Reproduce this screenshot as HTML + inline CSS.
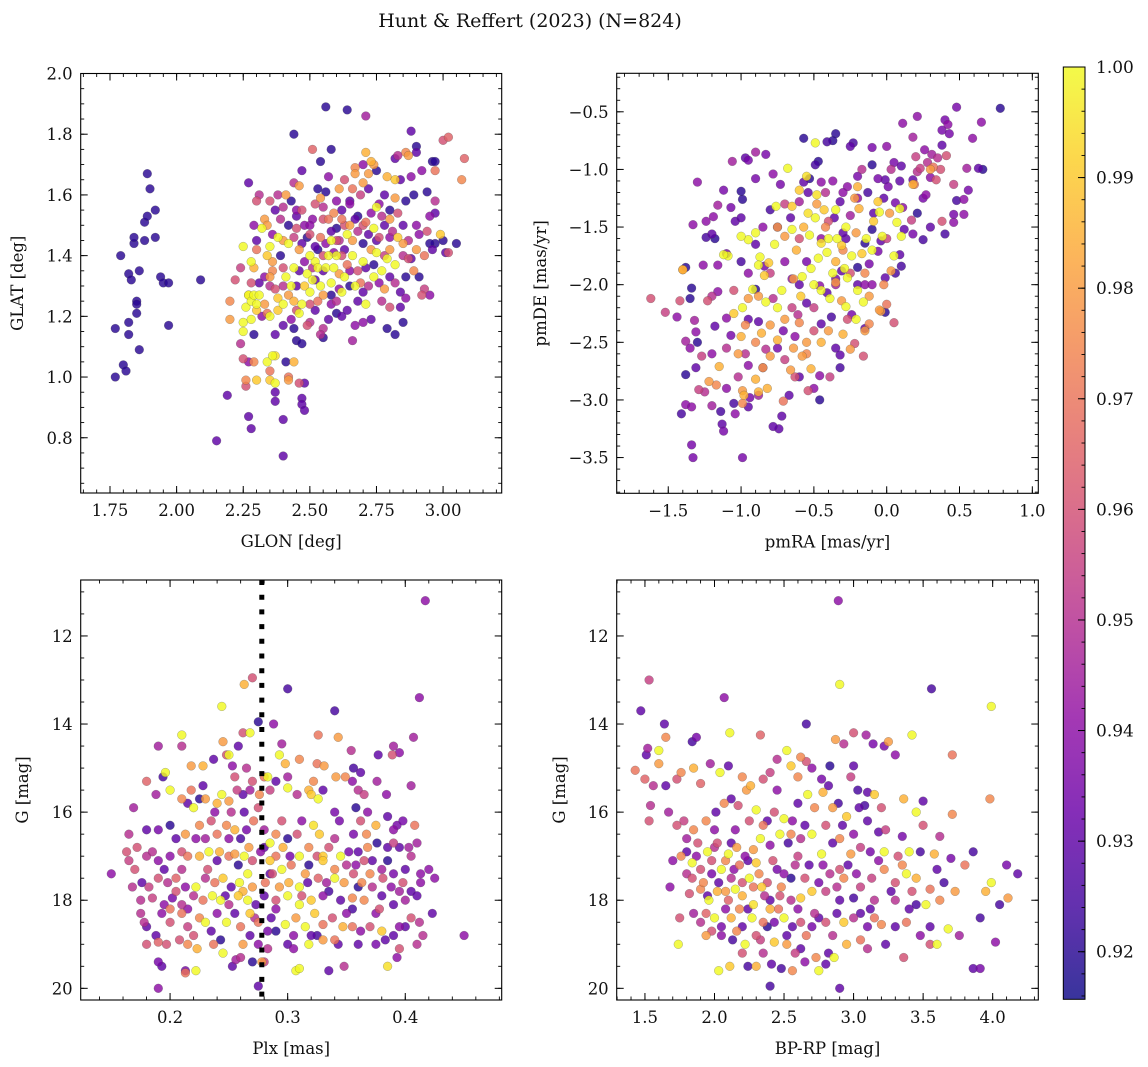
<!DOCTYPE html>
<html><head><meta charset="utf-8">
<style>
html,body{margin:0;padding:0;background:#fff;}
svg{display:block;font-family:"DejaVu Serif","Liberation Serif",serif;}
</style></head>
<body>
<svg id="fig" width="1148" height="1067" viewBox="0 0 1148 1067" xmlns="http://www.w3.org/2000/svg">
<text x="530" y="27" text-anchor="middle" font-size="19" fill="#111">Hunt &amp; Reffert (2023) (N=824)</text>
</svg>
<script>
// ---- data: [x, y, membership probability] ----
const glonGlat=[[1.77,1.16,0.92],[1.77,1.0,0.92],[1.79,1.40,0.92],[1.80,1.04,0.92],[1.81,1.02,0.92],[1.82,1.34,0.92],[1.82,1.18,0.92],[1.82,1.14,0.92],[1.83,1.32,0.92],[1.84,1.44,0.92],[1.84,1.46,0.92],[1.85,1.25,0.92],[1.85,1.24,0.92],[1.85,1.21,0.92],[1.86,1.35,0.92],[1.86,1.09,0.92],[1.88,1.51,0.92],[1.88,1.45,0.92],[1.89,1.53,0.92],[1.89,1.67,0.92],[1.90,1.62,0.92],[1.92,1.55,0.92],[1.92,1.46,0.92],[1.94,1.33,0.92],[1.95,1.31,0.92],[1.97,1.31,0.92],[1.97,1.17,0.92],[2.09,1.32,0.92],
[2.15,0.79,0.93],[2.19,0.94,0.93],[2.27,0.87,0.93],[2.28,0.83,0.93],[2.40,0.74,0.93],[2.40,0.86,0.93],[2.37,0.95,0.93],[2.37,0.92,0.93],[2.47,0.93,0.93],[2.47,0.91,0.93],[2.48,0.89,0.93],[2.48,0.98,0.93],[2.26,0.99,0.975],[2.26,0.97,0.96],[2.30,0.99,0.99],[2.35,0.99,0.99],[2.37,0.98,1.0],[2.42,1.0,0.97],[2.42,0.99,0.98],[2.46,0.98,0.96],[2.34,1.05,1.0],[2.36,1.07,1.0],[2.37,1.07,0.995],[2.35,1.02,0.97],[2.41,1.05,0.92],[2.44,1.05,0.985],[2.27,1.05,0.94],[2.25,1.06,0.96],[2.29,1.05,0.975],[2.24,1.11,0.95],[2.37,1.14,0.93],[2.45,1.12,0.92],[2.47,1.11,0.92],[2.29,1.14,0.92],[2.40,1.17,0.93],
[2.25,1.18,1.0],[2.25,1.15,1.0],[2.26,1.23,1.0],[2.27,1.27,1.0],[2.28,1.25,1.0],[2.29,1.27,1.0],[2.30,1.24,1.0],[2.31,1.27,1.0],[2.27,1.27,0.99],[2.28,1.19,1.0],[2.30,1.22,0.99],[2.20,1.25,0.975],[2.20,1.19,0.98],[2.22,1.32,0.96],[2.24,1.36,0.955],[2.28,1.31,0.96],[2.25,1.43,1.0],[2.28,1.38,1.0],[2.29,1.36,0.985],[2.30,1.45,0.93],[2.29,1.50,0.94],[2.30,1.58,0.96],[2.27,1.64,0.93],[2.31,1.60,0.95],[2.33,1.52,0.98],[2.32,1.49,1.0],[2.34,1.50,0.98],[2.35,1.43,1.0],[2.34,1.40,0.99],[2.36,1.38,0.98],[2.36,1.35,0.975],[2.35,1.30,0.95],[2.37,1.29,0.96],[2.38,1.26,0.99],[2.33,1.24,0.98],[2.34,1.21,0.97],[2.35,1.20,1.0],[2.32,1.20,0.94],[2.38,1.22,0.99],[2.40,1.24,1.0],[2.41,1.33,1.0],[2.42,1.27,0.98],[2.43,1.30,1.0],[2.44,1.25,0.985],[2.45,1.22,0.96],[2.46,1.21,1.0],[2.47,1.24,1.0],[2.48,1.30,0.99],[2.49,1.34,1.0],[2.50,1.28,1.0],[2.51,1.32,1.0],[2.52,1.38,1.0],[2.53,1.36,1.0],[2.54,1.30,1.0],[2.55,1.27,0.98],[2.56,1.36,1.0],[2.57,1.40,1.0],[2.58,1.31,1.0],[2.59,1.36,1.0],[2.60,1.40,1.0],[2.61,1.34,0.98],[2.62,1.28,1.0],[2.63,1.33,1.0],[2.64,1.37,0.97],[2.66,1.40,1.0],[2.67,1.30,1.0],[2.68,1.35,0.96],[2.70,1.38,1.0],[2.71,1.24,1.0],[2.73,1.42,0.98],[2.74,1.33,1.0],[2.75,1.41,1.0],[2.77,1.35,1.0],[2.79,1.39,1.0],[2.80,1.42,0.98],[2.82,1.37,1.0],[2.83,1.46,0.99],[2.85,1.44,0.98],[2.75,1.56,1.0],[2.74,1.49,1.0],[2.64,1.47,1.0],[2.58,1.45,1.0],[2.50,1.40,1.0],[2.46,1.42,0.98],[2.42,1.44,1.0],[2.40,1.45,0.98],[2.38,1.46,1.0],[2.44,1.36,1.0],
[2.40,1.56,0.95],[2.41,1.60,0.98],[2.43,1.58,0.92],[2.44,1.64,0.95],[2.46,1.63,0.98],[2.45,1.53,0.93],[2.47,1.55,0.96],[2.48,1.50,0.94],[2.49,1.46,0.92],[2.51,1.52,0.94],[2.52,1.57,0.96],[2.53,1.62,0.92],[2.54,1.59,0.98],[2.55,1.56,0.95],[2.56,1.61,0.92],[2.57,1.52,0.97],[2.58,1.48,0.93],[2.59,1.54,0.975],[2.60,1.58,0.94],[2.61,1.62,0.98],[2.62,1.55,0.93],[2.63,1.50,0.96],[2.65,1.57,0.94],[2.66,1.62,0.97],[2.67,1.67,0.98],[2.68,1.53,0.92],[2.69,1.60,0.955],[2.70,1.64,0.98],[2.72,1.67,0.98],[2.73,1.71,0.985],[2.71,1.74,0.985],[2.74,1.70,0.98],[2.76,1.57,0.94],[2.78,1.60,0.93],[2.79,1.66,0.985],[2.80,1.55,0.92],[2.82,1.59,0.98],[2.83,1.73,0.95],[2.84,1.65,0.93],[2.86,1.74,0.975],[2.88,1.66,0.94],[2.88,1.81,0.93],[2.89,1.60,0.92],[2.90,1.74,0.93],[2.90,1.76,0.92],[2.92,1.68,0.94],[2.94,1.61,0.92],[2.96,1.71,0.92],[2.97,1.68,0.97],[3.00,1.78,0.96],[3.02,1.79,0.965],[3.07,1.65,0.975],[3.08,1.72,0.965],[2.97,1.58,0.95],[2.97,1.54,0.93],[2.95,1.53,0.94],[2.99,1.47,0.99],[3.00,1.45,0.92],[3.01,1.41,0.93],[3.05,1.44,0.92],[3.02,1.41,0.96],[2.97,1.44,0.92],[2.96,1.42,0.93],[2.93,1.40,0.97],[2.93,1.29,0.955],[2.92,1.27,0.96],[2.95,1.27,0.94],[2.91,1.33,0.92],[2.89,1.35,0.975],[2.86,1.26,0.94],[2.84,1.28,0.93],[2.84,1.23,0.93],[2.85,1.18,0.92],[2.79,1.16,0.92],[2.82,1.14,0.92],[2.80,1.23,0.96],[2.77,1.25,0.95],[2.73,1.19,0.93],[2.70,1.18,0.94],[2.67,1.17,0.94],[2.66,1.12,0.945],[2.62,1.20,0.93],[2.60,1.21,0.92],[2.64,1.22,0.93],[2.58,1.24,0.94],[2.57,1.19,0.93],[2.55,1.16,0.95],[2.55,1.13,0.92],[2.54,1.14,0.95],[2.50,1.18,0.95],[2.49,1.17,0.96],[2.58,1.27,0.92],[2.68,1.25,0.93],[2.72,1.30,0.95],[2.76,1.31,0.94],[2.78,1.29,0.98],[2.88,1.39,0.93],[2.87,1.45,0.95],[2.91,1.47,0.94],[2.94,1.48,0.96],[2.95,1.44,0.92],[2.90,1.42,0.98],[2.81,1.48,0.95],[2.78,1.50,0.93],[2.76,1.46,0.96],[2.72,1.47,0.93],[2.70,1.44,0.92],[2.68,1.48,0.95],[2.66,1.45,0.98],[2.63,1.42,0.93],[2.61,1.45,0.95],[2.60,1.49,0.92],[2.56,1.44,0.94],[2.54,1.46,0.97],[2.52,1.43,0.93],[2.50,1.47,0.96],[2.48,1.38,0.94],[2.46,1.35,0.93],[2.44,1.46,0.955],[2.42,1.50,0.92],[2.39,1.52,0.95],[2.37,1.55,0.93],[2.36,1.47,0.94],[2.38,1.60,0.95],[2.35,1.58,0.96],[2.39,1.40,0.92],[2.33,1.33,0.94],[2.31,1.31,0.93],[2.40,1.30,0.95],[2.43,1.19,0.94],[2.44,1.16,0.92],[2.52,1.22,0.93],[2.53,1.25,0.97],[2.61,1.29,0.94],[2.65,1.30,0.92],[2.69,1.31,0.97],[2.71,1.36,0.93],[2.74,1.37,0.92],[2.80,1.33,0.93],[2.82,1.31,0.95],[2.86,1.33,0.92],[2.87,1.39,0.96],[2.85,1.50,0.93],[2.83,1.54,0.96],[2.80,1.52,0.98],[2.77,1.53,0.95],[2.73,1.54,0.94],[2.71,1.51,0.97],[2.67,1.52,0.93],[2.65,1.50,0.98],[2.62,1.40,0.96],[2.59,1.41,0.94],[2.55,1.40,0.96],[2.53,1.42,0.92],[2.51,1.36,0.95],[2.47,1.44,0.93],[2.45,1.49,0.96],[2.56,1.89,0.92],[2.64,1.88,0.92],[2.71,1.86,0.945],[2.44,1.80,0.92],[2.58,1.75,0.92],[2.54,1.71,0.92],[2.51,1.75,0.965],[2.70,1.70,0.94],[2.63,1.65,0.96],[2.67,1.69,0.975],[2.75,1.68,0.92],[2.82,1.72,0.93],[2.87,1.73,0.98],[2.97,1.71,0.92],[2.86,1.58,0.92],[2.82,1.65,0.99],
[2.5,1.5,0.94],[2.55,1.35,0.93],[2.6,1.45,0.96],[2.65,1.35,0.94],[2.7,1.5,0.96],[2.75,1.45,0.93],[2.8,1.46,0.94],[2.85,1.4,0.95],[2.45,1.3,0.93],[2.5,1.24,0.96],[2.6,1.25,0.95],[2.7,1.28,0.93],[2.45,1.55,0.94],[2.55,1.52,0.96],[2.65,1.58,0.93],[2.4,1.36,0.96],[2.52,1.32,0.93],[2.62,1.52,0.97],[2.72,1.62,0.93],[2.78,1.4,0.955],[2.9,1.5,0.94],[2.35,1.33,0.98],[2.3,1.42,0.97],[2.57,1.66,0.94],[2.47,1.68,0.93]];

const pmraPmde=[[0.78,-0.47,0.92],[0.48,-0.46,0.935],[0.21,-0.54,0.94],[0.11,-0.6,0.94],[0.4,-0.57,0.935],[0.42,-0.61,0.94],[0.65,-0.59,0.94],[0.38,-0.66,0.935],[0.43,-0.69,0.935],[0.59,-0.73,0.94],[0.18,-0.72,0.945],[0.38,-0.79,0.93],[0.26,-0.83,0.94],[0.31,-0.87,0.945],[0.2,-0.89,0.955],[0.35,-0.9,0.95],[0.41,-0.88,0.96],[0.28,-0.94,0.95],[0.23,-0.99,0.955],[0.32,-0.98,0.97],[0.37,-1.0,0.96],[0.21,-1.02,0.95],[0.05,-0.94,0.935],[0.1,-0.97,0.93],[0.03,-1.0,0.95],[0.55,-0.99,0.945],[0.63,-0.99,0.93],[0.66,-1.0,0.92],[0.46,-1.13,0.955],[0.34,-1.09,0.96],[0.3,-1.07,0.94],[0.18,-1.09,0.93],[0.09,-1.1,0.93],[0.01,-1.15,0.935],[-0.01,-1.09,0.93],[-0.06,-1.08,0.935],[0.19,-1.13,0.97],[0.27,-1.22,0.94],[0.56,-1.18,0.935],[0.53,-1.26,0.94],[0.48,-1.27,0.925],[0.53,-1.39,0.94],[0.46,-1.39,0.935],[0.38,-1.45,0.96],[0.46,-1.46,0.94],[0.4,-1.56,0.925],[0.25,-1.61,0.925],[0.18,-1.56,0.935],[0.12,-1.52,0.93],[0.17,-1.44,0.955],[0.21,-1.38,0.92],[0.11,-1.33,0.94],[0.06,-1.29,0.935],[-0.02,-1.25,0.93],[0.09,-1.74,0.93],[0.1,-1.84,0.925],[0.06,-1.9,0.925],[-0.01,-1.94,0.93],[0.0,-2.17,0.97],[-0.04,-2.23,0.98],[-0.01,-2.24,0.92],[0.05,-2.33,0.96],[-0.12,-2.34,0.975],[-0.15,-2.38,0.93],[-0.16,-2.62,0.96],[-0.22,-2.51,0.96],[-0.32,-2.61,0.93],[-0.32,-2.72,0.925],[-0.39,-2.8,0.955],[-0.46,-2.79,0.94],[-0.5,-2.9,0.94],[-0.46,-3.0,0.92],[-0.54,-2.92,0.96],[-0.63,-2.8,0.96],[-0.67,-2.96,0.93],[-0.71,-3.01,0.97],[-0.72,-3.14,0.93],[-0.74,-3.25,0.93],[-0.78,-3.23,0.93],[-0.99,-3.5,0.935],[-1.33,-3.5,0.935],[-1.34,-3.39,0.935],[-1.12,-3.27,0.935],[-1.13,-3.21,0.93],[-1.14,-3.1,0.925],[-1.04,-3.12,0.94],[-0.95,-3.06,0.93],[-1.05,-3.03,0.925],[-1.2,-3.05,0.945],[-1.41,-3.12,0.925],[-1.38,-3.04,0.94],[-1.34,-3.06,0.94],[-1.29,-2.91,0.955],[-1.25,-2.93,0.95],[-1.38,-2.78,0.92],[-1.31,-2.72,0.93],[-1.27,-2.62,0.955],[-1.35,-2.55,0.94],[-1.38,-2.49,0.945],[-1.3,-2.5,0.92],[-1.31,-2.41,0.94],[-1.32,-2.31,0.945],[-1.44,-2.28,0.94],[-1.52,-2.24,0.955],[-1.62,-2.12,0.96],[-1.42,-2.14,0.96],[-1.35,-2.12,0.92],[-1.34,-2.03,0.92],[-1.23,-2.14,0.96],[-1.2,-2.1,0.95],[-1.16,-2.06,0.94],[-1.4,-1.87,0.98],[-1.38,-1.85,0.92],[-1.26,-1.83,0.94],[-1.16,-1.83,0.94],[-1.1,-1.73,0.935],[-1.0,-1.8,0.925],[-1.2,-1.56,0.93],[-1.24,-1.59,0.925],[-1.18,-1.6,0.92],[-1.24,-1.45,0.94],[-1.19,-1.41,0.94],[-1.04,-1.45,0.93],[-1.0,-1.42,0.93],[-1.33,-1.48,0.94],[-1.07,-1.33,0.935],[-0.99,-1.26,0.92],[-1.0,-1.19,0.92],[-1.16,-1.31,0.945],[-1.12,-1.18,0.935],[-1.3,-1.11,0.94],[-1.06,-0.93,0.945],[-0.95,-0.92,0.935],[-0.97,-0.9,0.93],[-0.9,-0.85,0.945],[-0.83,-0.87,0.935],[-0.78,-1.04,0.94],[-0.9,-1.08,0.935],[-0.73,-1.13,0.935],[-0.57,-1.11,0.93],[-0.53,-1.08,0.92],[-0.57,-0.73,0.92],[-0.35,-0.69,0.92],[-0.37,-0.75,0.92],[-0.41,-0.76,0.925],[-0.23,-0.77,0.925],[-0.25,-0.8,0.93],[-0.1,-0.81,0.935],[0.0,-0.8,0.94],[-0.1,-0.96,0.92],[-0.2,-1.06,0.935],[-0.27,-1.15,0.94],[-0.17,-1.0,0.95],[-0.47,-0.93,0.92],[-0.49,-0.96,0.925],[-0.45,-1.11,0.94],[-0.54,-1.2,0.93],[-0.37,-1.1,0.94],[-0.32,-1.28,0.93],[-0.2,-1.25,0.94],[-0.13,-1.2,0.925],[-0.09,-1.38,0.93],[-0.1,-1.52,0.92],[-0.04,-1.62,0.93],[-0.06,-1.71,0.935],[-0.12,-1.82,0.935],[-0.2,-1.85,0.92],[-0.31,-1.88,0.93],[-0.35,-1.95,0.935],[-0.41,-2.07,0.93],[-0.46,-2.01,0.94],[-0.55,-2.16,0.93],[-0.61,-2.26,0.95],[-0.71,-2.4,0.935],[-0.38,-2.28,0.925],[-0.24,-2.26,0.935],[-0.27,-2.3,0.96],[-0.45,-2.34,0.93],[-0.63,-2.45,0.94],[-0.75,-2.55,0.935],[-0.83,-2.56,0.95],[-0.88,-2.32,0.93],[-0.95,-2.3,0.93],[-1.07,-2.44,0.935],[-1.1,-2.29,0.94],[-1.18,-2.36,0.93],[-0.9,-2.04,0.92],[-0.84,-1.84,0.935],[-0.9,-1.65,0.93],[-0.75,-1.5,0.93],[-0.66,-1.42,0.93],[-0.8,-1.35,0.925],[-0.6,-1.28,0.945],[-0.42,-1.2,0.95],[-0.36,-1.42,0.93],[-0.28,-1.6,0.93],[-0.15,-1.64,0.92],[-0.2,-2.0,0.93],[-0.55,-1.8,0.935],[-0.65,-1.95,0.94],[-0.78,-2.12,0.95],[-0.97,-2.6,0.95],[-1.02,-2.8,0.95],[-0.88,-2.96,0.945],[-0.94,-2.98,0.935],[-1.1,-2.9,0.94],[-0.85,-2.72,0.94],
[-0.49,-0.77,1.0],[-0.68,-0.99,1.0],[-0.55,-1.06,0.995],[-0.6,-1.18,0.99],[-0.48,-1.22,0.995],[-0.76,-1.32,1.0],[-0.65,-1.32,0.99],[-0.54,-1.38,0.995],[-0.49,-1.42,1.0],[-0.43,-1.35,0.99],[-0.35,-1.35,1.0],[-0.19,-1.34,0.985],[-0.06,-1.28,0.99],[-0.05,-1.37,1.0],[-0.09,-1.45,0.99],[0.02,-1.38,0.98],[0.09,-1.34,1.0],[0.07,-1.46,1.0],[0.1,-1.58,1.0],[0.05,-1.75,1.0],[-0.03,-1.58,1.0],[-0.14,-1.6,1.0],[-0.21,-1.55,0.98],[-0.28,-1.5,1.0],[-0.34,-1.6,1.0],[-0.31,-1.66,0.99],[-0.4,-1.6,1.0],[-0.45,-1.64,0.995],[-0.53,-1.57,1.0],[-0.57,-1.5,0.985],[-0.65,-1.52,1.0],[-0.7,-1.58,0.98],[-0.77,-1.65,1.0],[-0.9,-1.55,1.0],[-0.95,-1.61,1.0],[-1.0,-1.58,1.0],[-1.09,-1.75,1.0],[-1.12,-1.74,1.0],[-0.87,-1.76,1.0],[-0.81,-1.81,0.99],[-0.88,-1.83,1.0],[-0.84,-1.92,0.99],[-0.92,-2.04,1.0],[-0.99,-2.2,1.0],[-0.83,-2.15,1.0],[-0.75,-2.2,1.0],[-0.72,-2.05,1.0],[-0.64,-1.95,0.98],[-0.58,-1.93,1.0],[-0.52,-1.86,1.0],[-0.47,-1.77,1.0],[-0.41,-1.72,1.0],[-0.35,-1.8,0.985],[-0.29,-1.86,1.0],[-0.24,-1.75,1.0],[-0.17,-1.73,0.99],[-0.1,-1.7,1.0],[-0.27,-1.94,1.0],[-0.37,-1.9,1.0],[-0.45,-2.05,1.0],[-0.5,-2.0,1.0],[-0.59,-2.1,0.99],[-0.31,-2.14,0.98],[-0.2,-2.05,1.0],[-0.16,-2.15,1.0],[-0.21,-2.3,1.0],[-0.28,-2.19,1.0],[-0.39,-2.12,1.0],[-0.88,-2.1,0.98],[-0.95,-2.12,0.98],[-1.05,-2.25,0.99],[-0.97,-2.35,0.975],[-0.86,-2.42,0.985],[-0.8,-2.35,0.98],[-0.7,-2.3,0.98],[-0.75,-2.48,0.985],[-0.64,-2.55,0.98],[-0.55,-2.5,0.98],[-0.58,-2.62,0.98],[-0.52,-2.73,0.985],[-0.66,-2.74,0.98],[-0.8,-2.62,0.98],[-0.9,-2.5,0.975],[-1.0,-2.45,0.985],[-1.02,-2.6,0.98],[-0.85,-2.72,0.98],[-0.9,-2.82,0.985],[-0.88,-2.93,0.985],[-0.82,-2.9,0.985],[-1.15,-2.71,0.985],[-1.22,-2.84,0.98],[-1.17,-2.87,0.975],[-0.99,-2.92,0.98],[-0.98,-2.96,0.985],[-0.99,-3.03,0.975],[-0.6,-2.33,0.975],[-0.45,-2.5,0.985],[-0.4,-2.4,0.98],[-0.3,-2.43,0.985],[-0.25,-2.56,0.98],[-0.15,-2.4,0.98],[-0.05,-2.22,0.98],[-0.12,-2.1,0.98],[-0.02,-2.0,0.975],[0.03,-1.88,0.98],[-0.3,-1.7,0.975],[-0.42,-1.5,0.975],[-0.48,-1.3,0.98],[-0.2,-1.15,0.985],[-0.22,-1.25,0.98],[0.18,-1.13,0.985],[0.3,-1.0,0.98],[-0.75,-1.5,0.98],[-1.4,-1.87,0.985],[-0.62,-1.7,0.985],[-0.35,-1.98,0.98],[-0.15,-1.9,0.975],
[-0.7,-1.8,0.94],[-0.6,-2.0,0.93],[-0.5,-2.2,0.955],[-0.35,-2.0,0.945],[-0.25,-1.9,0.96],[-0.15,-2.0,0.94],[-0.45,-1.6,0.94],[-0.6,-1.6,0.96],[-0.8,-1.9,0.955],[-0.95,-1.9,0.94],[-1.05,-2.05,0.96],[-0.65,-2.2,0.955],[-0.5,-2.4,0.96],[-0.7,-2.65,0.955],[-0.95,-2.7,0.94],[-1.1,-2.55,0.95],[-1.2,-2.6,0.94],[-0.35,-2.55,0.93],[-0.1,-2.0,0.94],[0.0,-1.6,0.955],[-0.25,-1.4,0.945],[-0.4,-1.45,0.96],[-0.7,-1.3,0.955],[-0.85,-1.5,0.94],[-0.3,-1.2,0.94],[0.25,-1.25,0.935],[0.3,-1.5,0.93],[-0.6,-2.8,0.93],[-0.55,-2.6,0.975],[-0.3,-1.55,0.93]];

const plxG=[[0.417,11.2,0.94],[0.412,13.4,0.94],[0.3,13.2,0.925],[0.263,13.1,0.985],[0.27,12.95,0.96],[0.244,13.6,1.0],[0.34,13.7,0.925],[0.407,14.3,0.945],[0.21,14.25,1.0],[0.268,14.2,1.0],[0.262,14.2,0.96],[0.288,14.0,0.94],[0.275,13.95,0.92],[0.19,14.5,0.945],[0.21,14.5,0.95],[0.245,14.4,0.98],[0.258,14.5,0.93],[0.295,14.45,0.945],[0.326,14.25,0.97],[0.343,14.3,0.98],[0.354,14.6,0.95],[0.39,14.5,0.945],[0.395,14.65,0.94],[0.389,14.7,0.96],[0.377,14.7,0.93],[0.405,15.4,0.945],[0.384,15.6,0.94],[0.376,15.3,0.945],[0.362,15.1,0.93],[0.355,15.3,0.94],[0.36,15.5,0.95],[0.365,15.6,0.955],[0.349,15.2,0.975],[0.341,15.2,0.98],[0.356,15.0,0.925],[0.331,14.95,0.98],[0.325,14.9,0.97],[0.31,14.8,0.975],[0.298,14.9,0.985],[0.293,14.7,1.0],[0.3,15.2,0.945],[0.283,15.2,1.0],[0.28,15.2,0.97],[0.265,15.0,0.95],[0.253,14.95,0.94],[0.25,14.7,1.0],[0.248,14.7,0.96],[0.237,14.8,0.93],[0.228,14.95,0.985],[0.218,14.95,0.98],[0.196,15.1,1.0],[0.194,15.2,0.925],[0.18,15.3,0.965],[0.169,15.9,0.945],[0.188,15.6,0.945],[0.2,15.5,1.0],[0.21,15.7,0.975],[0.215,15.8,0.93],[0.22,15.9,1.0],[0.218,15.5,0.97],[0.23,15.7,0.98],[0.225,15.7,0.92],[0.24,15.8,0.985],[0.244,15.6,1.0],[0.25,15.75,0.98],[0.257,15.5,0.955],[0.262,15.6,0.93],[0.268,15.5,0.945],[0.27,15.3,0.96],[0.276,15.6,0.975],[0.285,15.5,0.955],[0.29,15.3,0.93],[0.3,15.45,1.0],[0.308,15.6,0.95],[0.318,15.5,0.985],[0.322,15.3,0.975],[0.32,15.6,0.99],[0.326,15.7,1.0],[0.33,15.5,0.93],[0.34,16.0,0.935],[0.344,16.2,0.935],[0.362,16.2,0.96],[0.358,15.9,0.92],[0.375,16.3,0.985],[0.385,16.1,0.93],[0.393,16.3,0.935],[0.398,16.2,0.935],[0.408,16.3,0.97],[0.41,16.7,0.945],[0.403,16.8,0.945],[0.39,16.7,0.955],[0.385,16.8,0.93],[0.376,16.7,0.92],[0.367,16.5,0.975],[0.356,16.5,0.935],[0.368,16.8,0.975],[0.352,16.9,0.935],[0.345,17.0,1.0],[0.335,16.8,0.96],[0.33,17.0,0.99],[0.327,16.5,0.99],[0.322,16.3,0.995],[0.318,16.8,0.975],[0.308,16.5,0.96],[0.3,16.6,0.92],[0.296,16.8,0.985],[0.29,17.0,0.97],[0.285,16.7,1.0],[0.28,16.4,0.945],[0.271,16.2,0.97],[0.265,16.4,0.935],[0.26,16.6,0.925],[0.255,16.4,0.985],[0.248,16.3,0.975],[0.24,16.5,0.97],[0.235,16.2,0.96],[0.23,16.6,0.945],[0.222,16.6,0.94],[0.213,16.5,0.98],[0.205,16.6,0.93],[0.2,16.3,0.92],[0.19,16.4,0.935],[0.18,16.4,0.93],[0.172,16.8,0.96],[0.165,16.5,0.95],[0.163,16.9,0.96],[0.165,17.1,0.955],[0.18,17.0,0.95],[0.19,17.1,0.94],[0.2,17.0,0.94],[0.21,16.9,0.96],[0.215,17.0,0.97],[0.225,17.0,0.985],[0.233,16.9,1.0],[0.24,17.1,0.93],[0.25,17.0,0.97],[0.255,16.95,0.98],[0.263,17.0,1.0],[0.27,17.1,0.96],[0.277,16.9,0.94],[0.285,17.1,0.99],[0.295,17.3,1.0],[0.303,17.2,0.97],[0.31,17.0,1.0],[0.318,17.2,0.92],[0.325,17.0,0.96],[0.33,17.1,0.99],[0.34,17.3,0.975],[0.35,17.2,0.95],[0.358,17.2,0.94],[0.365,17.1,0.96],[0.372,17.1,0.93],[0.38,17.3,0.945],[0.39,17.4,0.935],[0.4,17.3,0.93],[0.413,17.4,0.94],[0.42,17.3,0.94],[0.425,17.5,0.94],[0.15,17.4,0.94],[0.168,17.7,0.95],[0.176,17.6,0.93],[0.182,17.7,0.955],[0.19,17.5,0.96],[0.198,17.6,0.95],[0.205,17.5,0.965],[0.213,17.7,0.94],[0.222,17.7,1.0],[0.23,17.5,0.95],[0.238,17.6,0.97],[0.245,17.5,0.99],[0.252,17.7,0.93],[0.259,17.6,1.0],[0.266,17.4,1.0],[0.27,17.7,0.98],[0.281,17.6,0.97],[0.287,17.4,0.96],[0.293,17.7,0.98],[0.301,17.6,0.985],[0.31,17.7,1.0],[0.317,17.6,0.93],[0.326,17.5,0.965],[0.333,17.6,0.945],[0.34,17.5,1.0],[0.348,17.6,0.98],[0.356,17.4,0.96],[0.363,17.6,0.975],[0.372,17.7,0.95],[0.381,17.5,0.96],[0.388,17.7,0.94],[0.395,17.8,0.945],[0.405,17.8,0.93],[0.413,17.6,0.94],[0.175,18.0,0.95],[0.185,17.95,0.955],[0.195,18.1,0.94],[0.202,17.95,0.935],[0.21,18.1,0.95],[0.22,17.9,0.95],[0.228,18.0,0.97],[0.236,17.9,1.0],[0.243,18.0,1.0],[0.25,18.1,0.95],[0.258,17.9,0.99],[0.266,18.0,1.0],[0.273,18.1,0.93],[0.28,17.9,0.93],[0.29,18.0,0.96],[0.3,17.9,1.0],[0.31,18.1,1.0],[0.32,18.0,0.99],[0.33,17.9,0.94],[0.345,18.0,0.93],[0.355,17.95,0.975],[0.365,18.0,0.975],[0.38,17.9,0.93],[0.39,18.1,0.93],[0.4,18.0,0.945],[0.41,17.9,0.93],[0.423,18.3,0.93],[0.178,18.5,0.95],[0.18,18.6,0.93],[0.193,18.3,0.94],[0.2,18.5,0.96],[0.21,18.3,0.97],[0.215,18.6,0.955],[0.225,18.4,0.975],[0.23,18.5,1.0],[0.24,18.3,0.94],[0.248,18.5,1.0],[0.255,18.3,0.93],[0.26,18.6,0.97],[0.268,18.3,0.99],[0.275,18.5,0.97],[0.286,18.4,0.93],[0.29,18.7,0.92],[0.298,18.55,1.0],[0.307,18.4,0.98],[0.315,18.6,1.0],[0.323,18.3,0.99],[0.33,18.55,0.97],[0.338,18.4,0.96],[0.347,18.6,0.985],[0.355,18.6,0.97],[0.362,18.7,0.94],[0.37,18.6,0.96],[0.38,18.7,0.99],[0.39,18.8,0.93],[0.395,18.6,0.94],[0.405,18.4,0.96],[0.412,18.5,0.95],[0.45,18.8,0.94],[0.18,19.0,0.96],[0.19,18.95,0.965],[0.197,19.0,0.96],[0.208,18.9,0.96],[0.215,19.0,0.975],[0.223,19.1,0.985],[0.237,19.0,0.97],[0.245,19.2,1.0],[0.262,19.0,0.98],[0.275,19.0,0.94],[0.283,19.1,0.95],[0.3,19.0,0.93],[0.305,19.1,0.94],[0.318,19.0,1.0],[0.33,18.9,0.98],[0.343,19.0,0.93],[0.36,19.0,0.93],[0.375,19.0,0.935],[0.383,18.9,0.93],[0.395,19.1,0.96],[0.41,19.0,0.95],[0.19,19.4,0.935],[0.193,19.5,0.93],[0.213,19.6,0.935],[0.213,19.65,0.97],[0.222,19.6,1.0],[0.253,19.5,0.93],[0.256,19.35,0.945],[0.27,19.4,0.92],[0.278,19.4,0.98],[0.28,19.4,0.955],[0.307,19.6,1.0],[0.31,19.55,1.0],[0.335,19.6,0.93],[0.348,19.5,0.95],[0.385,19.5,0.995],[0.393,19.3,0.94],[0.19,20.0,0.94],[0.275,19.95,0.93],
[0.185,16.9,0.95],[0.195,17.3,0.93],[0.205,17.8,0.96],[0.215,18.2,0.94],[0.225,16.3,0.975],[0.232,17.3,0.96],[0.242,16.9,0.985],[0.247,17.9,0.93],[0.252,16.0,0.95],[0.258,17.2,0.92],[0.262,17.8,0.985],[0.267,16.8,0.98],[0.272,18.4,0.95],[0.285,17.4,0.93],[0.29,18.2,0.94],[0.295,16.2,0.96],[0.302,17.0,0.935],[0.312,16.2,0.94],[0.315,17.4,0.98],[0.32,18.8,0.93],[0.335,17.8,0.925],[0.34,16.6,0.95],[0.35,18.3,0.94],[0.36,16.9,0.93],[0.37,17.4,0.975],[0.375,18.3,0.94],[0.385,17.1,0.92],[0.395,16.8,0.93],[0.4,18.6,0.93],[0.405,17.0,0.95],[0.17,17.3,0.96],[0.175,18.3,0.95],[0.188,18.8,0.93],[0.2,18.2,0.97],[0.21,17.3,0.95],[0.22,18.8,0.96],[0.235,18.7,0.93],[0.243,18.9,0.92],[0.25,16.6,0.94],[0.26,19.3,0.95],[0.268,18.8,0.93],[0.28,16.8,0.93],[0.283,18.7,0.935],[0.29,16.5,0.975],[0.305,18.8,0.94],[0.312,17.9,0.96],[0.325,18.8,0.925],[0.34,18.9,0.97],[0.355,18.2,0.925],[0.36,17.7,0.92],[0.368,16.0,0.94],[0.378,18.2,0.96],[0.39,16.4,0.94],[0.398,17.6,0.96],[0.415,18.8,0.95],[0.263,16.0,0.93],[0.275,15.9,0.96],[0.255,15.2,0.96],[0.238,16.0,0.94],[0.228,15.4,0.93]];

const bprpG=[[2.89,11.2,0.94],[1.53,13.0,0.955],[2.07,13.4,0.94],[2.9,13.1,1.0],[3.56,13.2,0.925],[3.99,13.6,1.0],[1.47,13.7,0.93],[1.64,14.0,0.93],[1.65,14.3,0.975],[1.87,14.3,0.935],[1.84,14.4,0.925],[2.11,14.2,1.0],[2.33,14.25,0.965],[2.66,14.0,0.925],[2.87,14.35,0.98],[2.93,14.45,0.95],[3.0,14.2,0.96],[3.09,14.25,0.945],[3.14,14.45,0.935],[3.22,14.5,0.935],[3.25,14.4,0.98],[3.42,14.25,1.0],[3.3,14.7,0.94],[3.71,14.7,0.97],[1.52,14.55,0.945],[1.51,14.7,0.93],[1.6,14.6,1.0],[1.6,14.9,0.98],[1.43,15.05,0.97],[1.5,15.25,0.965],[1.56,15.4,0.95],[1.65,15.4,0.93],[1.73,15.25,0.96],[1.76,15.1,0.975],[1.85,15.0,0.985],[1.9,15.35,0.965],[1.97,14.9,0.945],[2.04,15.1,1.0],[2.1,14.95,0.93],[2.2,15.2,0.975],[2.26,15.4,0.985],[2.35,15.25,0.96],[2.4,15.1,0.955],[2.45,14.8,0.95],[2.52,14.6,1.0],[2.55,14.95,0.99],[2.62,14.75,0.975],[2.66,14.85,0.96],[2.7,15.0,0.94],[2.77,15.25,0.935],[2.83,14.95,0.92],[2.98,15.2,0.955],[3.0,14.95,0.93],[3.03,15.5,0.925],[3.1,15.55,0.93],[3.15,15.6,0.99],[3.2,15.9,0.96],[3.36,15.7,0.985],[3.5,15.75,0.93],[3.45,16.0,1.0],[3.98,15.7,0.975],[3.71,16.05,0.975],[1.54,15.85,0.95],[1.53,16.2,0.96],[1.67,16.0,0.945],[1.73,16.3,0.96],[1.78,16.2,0.955],[1.85,16.4,0.975],[1.94,16.2,0.975],[2.01,16.0,0.93],[2.07,15.8,0.975],[2.12,15.7,0.93],[2.17,15.85,0.96],[2.23,15.5,0.98],[2.3,15.95,1.0],[2.35,16.3,0.97],[2.43,16.0,0.96],[2.5,16.15,1.0],[2.56,16.2,0.94],[2.6,15.8,0.93],[2.67,15.6,1.0],[2.72,15.9,0.975],[2.78,15.55,0.985],[2.85,15.9,0.98],[2.89,15.8,0.925],[2.95,16.1,0.99],[3.04,15.9,0.93],[3.08,15.85,0.925],[3.18,16.45,0.93],[3.23,16.4,0.955],[3.35,16.55,0.935],[3.5,16.3,0.96],[3.62,16.55,0.95],[1.8,16.6,0.945],[1.88,16.7,0.96],[1.95,16.9,1.0],[2.02,16.7,0.96],[2.1,16.95,1.0],[2.16,16.8,0.98],[2.22,17.0,0.94],[2.28,16.85,0.98],[2.33,16.6,1.0],[2.4,16.75,0.94],[2.47,16.5,1.0],[2.53,16.7,0.925],[2.62,16.6,0.95],[2.7,16.5,1.0],[2.77,16.95,1.0],[2.85,16.7,0.93],[2.9,16.6,0.975],[2.98,16.95,0.98],[3.05,16.8,0.955],[3.12,16.9,0.935],[3.22,16.9,1.0],[3.32,17.0,0.96],[3.4,16.9,1.0],[3.48,16.9,0.925],[3.58,16.95,0.985],[3.7,17.05,0.935],[3.8,17.2,0.97],[3.86,16.9,0.925],[1.7,17.1,0.94],[1.76,17.0,0.975],[1.84,17.15,1.0],[1.9,17.3,0.96],[1.98,17.4,0.935],[2.05,17.3,1.0],[2.12,17.5,0.95],[2.18,17.2,0.97],[2.25,17.5,1.0],[2.32,17.4,0.975],[2.38,17.6,0.96],[2.45,17.3,0.935],[2.5,17.4,0.94],[2.58,17.2,0.95],[2.65,17.5,0.96],[2.75,17.6,0.935],[2.83,17.4,0.95],[2.93,17.5,0.975],[3.02,17.4,0.94],[3.13,17.5,0.955],[3.22,17.3,0.975],[3.3,17.6,0.96],[3.38,17.4,1.0],[3.45,17.5,0.985],[3.55,17.75,0.97],[3.65,17.6,0.925],[3.73,17.8,0.98],[3.95,17.8,0.985],[3.99,17.6,1.0],[4.1,17.2,0.935],[4.18,17.4,0.93],[1.68,17.7,0.94],[1.82,17.85,0.96],[1.9,17.75,0.975],[1.96,18.0,1.0],[2.02,17.8,0.985],[2.1,18.0,0.965],[2.15,17.75,1.0],[2.2,17.9,0.985],[2.28,18.1,0.995],[2.34,17.7,0.99],[2.4,18.0,0.93],[2.47,17.9,0.96],[2.55,18.0,0.95],[2.62,17.95,0.99],[2.7,17.8,0.99],[2.8,17.8,0.955],[2.9,18.0,0.93],[3.0,17.95,0.925],[3.15,18.0,0.95],[3.3,18.0,0.95],[3.45,18.1,0.925],[3.52,18.1,1.0],[3.62,18.0,0.975],[4.05,18.1,0.925],[4.11,17.95,0.98],[1.75,18.4,0.96],[1.85,18.3,0.945],[1.94,18.3,0.965],[2.0,18.4,1.0],[2.05,18.6,0.935],[2.12,18.4,0.985],[2.2,18.6,0.93],[2.27,18.4,1.0],[2.35,18.5,0.97],[2.43,18.5,0.935],[2.5,18.4,1.0],[2.56,18.6,0.93],[2.62,18.5,0.96],[2.7,18.6,0.935],[2.8,18.5,0.96],[2.88,18.3,0.93],[2.93,18.5,0.99],[3.0,18.4,0.95],[3.1,18.6,0.935],[3.2,18.55,0.975],[3.3,18.6,0.93],[3.38,18.5,0.97],[3.55,18.6,0.93],[3.68,18.65,1.0],[3.76,18.8,0.945],[3.91,18.4,0.925],[1.74,19.0,1.0],[1.94,18.8,0.98],[2.05,18.8,0.94],[2.13,18.9,0.925],[2.22,19.0,1.0],[2.33,18.9,0.955],[2.43,18.95,0.99],[2.52,19.0,0.98],[2.58,19.2,0.955],[2.62,19.1,0.93],[2.73,19.3,0.975],[2.82,19.2,0.93],[2.86,19.3,1.0],[2.95,19.0,0.985],[3.05,18.9,0.97],[3.1,19.1,0.95],[3.23,19.0,0.93],[3.36,19.3,0.96],[3.55,19.0,0.96],[3.6,19.0,1.0],[4.02,18.95,0.94],[2.03,19.6,1.0],[2.11,19.5,0.99],[2.24,19.5,0.925],[2.3,19.5,0.985],[2.41,19.45,0.93],[2.48,19.55,0.925],[2.56,19.6,0.975],[2.75,19.6,1.0],[2.8,19.45,0.93],[3.86,19.55,0.93],[3.91,19.55,0.935],[2.4,19.95,0.925],[2.9,20.0,0.93],[1.84,17.5,0.96],[2.08,17.1,0.975],[2.3,17.15,0.99],[2.6,17.0,0.955],[2.4,18.2,0.985],[2.18,18.2,0.975],[1.8,16.9,0.93],[2.0,16.4,0.94],
[1.8,17.4,0.95],[1.87,17.0,0.94],[1.92,17.6,0.975],[1.98,17.1,0.96],[2.03,17.6,0.93],[2.08,17.8,0.98],[2.14,17.3,0.94],[2.2,17.6,0.96],[2.24,17.1,0.93],[2.28,17.7,0.97],[2.36,17.9,0.95],[2.42,17.1,0.96],[2.48,17.7,0.975],[2.55,17.5,0.92],[2.6,18.2,0.94],[2.68,17.2,0.93],[2.72,18.3,0.95],[2.78,17.2,0.94],[2.88,17.7,0.95],[2.96,17.2,0.93],[3.05,17.7,0.955],[3.12,18.2,0.93],[3.18,17.1,0.94],[3.27,17.8,0.93],[3.35,17.2,0.975],[3.42,17.8,0.96],[3.6,17.3,0.93],[1.9,18.5,0.95],[1.98,18.7,0.96],[2.08,18.2,0.94],[2.16,18.7,0.975],[2.24,18.2,0.93],[2.3,18.8,0.96],[2.38,18.6,0.92],[2.46,18.2,0.97],[2.52,18.8,0.93],[2.66,18.8,0.97],[2.75,18.4,0.93],[2.85,18.8,0.95],[3.05,18.3,0.93],[3.15,18.4,0.97],[3.4,18.2,0.93],[3.48,18.8,0.94],[2.0,16.8,0.95],[2.15,16.4,0.94],[2.25,16.2,0.96],[2.38,16.2,0.93],[2.55,16.5,0.975],[2.65,16.3,0.93],[2.8,16.3,0.96],[2.92,16.3,0.93],[3.0,16.5,0.94],[3.1,16.2,0.93],[2.45,15.5,0.94],[2.6,15.2,0.975],[2.82,15.4,0.93],[2.35,19.2,0.95],[2.2,19.2,0.96],[2.65,19.4,0.94],[1.95,17.9,0.93],[2.12,16.7,0.93],[2.9,17.3,0.96]];

const panel1XTicks=[1.75,2.00,2.25,2.50,2.75,3.00];
const panel1YTicks=[0.8,1.0,1.2,1.4,1.6,1.8,2.0];
const panel2XTicks=[-1.5,-1.0,-0.5,0.0,0.5,1.0];
const panel2YTicks=[-3.5,-3.0,-2.5,-2.0,-1.5,-1.0,-0.5];
const panel3XTicks=[0.2,0.3,0.4];
const gTicks=[12,14,16,18,20];
const panel4XTicks=[1.5,2.0,2.5,3.0,3.5,4.0];
const colorbarTicks=[0.92,0.93,0.94,0.95,0.96,0.97,0.98,0.99,1.00];
const plxCut=0.278;
const probMin=0.9157, probMax=1.0;

const NS='http://www.w3.org/2000/svg';
const svg=document.getElementById('fig');
function mk(tag,attrs,parent){const e=document.createElementNS(NS,tag);for(const k in attrs)e.setAttribute(k,attrs[k]);(parent||svg).appendChild(e);return e;}

const stops=[[13,8,135],[65,4,157],[106,0,168],[143,13,164],[177,42,144],[204,71,120],[225,100,98],[242,132,75],[252,166,54],[252,206,37],[240,249,33]];
function plasma(t){t=Math.max(0,Math.min(1,t));const f=t*10,i=Math.min(9,Math.floor(f)),r=f-i;const a=stops[i],b=stops[i+1];return 'rgb('+[0,1,2].map(k=>Math.round(a[k]+(b[k]-a[k])*r)).join(',')+')';}
function probColor(p){return plasma((p-probMin)/(probMax-probMin));}

function fmt(v,d){return (v<0?'\u2212':'')+Math.abs(v).toFixed(d);}

function panel(cfg){
  const {name,L,R,T,B,x0,x1,y0,y1,inv,xt,yt,xmin,ymin,xd,yd,xlab,ylab,pts}=cfg;
  const sx=v=>L+(v-x0)/(x1-x0)*(R-L);
  const sy=inv? v=>T+(v-y0)/(y1-y0)*(B-T) : v=>B-(v-y0)/(y1-y0)*(B-T);
  const g=mk('g',{});
  
  
  const cp=mk('clipPath',{id:name+'-clip'},g);
  mk('rect',{x:L,y:T,width:R-L,height:B-T},cp);
  const pg=mk('g',{'clip-path':'url(#'+name+'-clip)'},g);
  
  
  const sorted=pts.slice().sort((a,b)=>a[2]-b[2]);
  for(const p of sorted){
    const c=mk('circle',{cx:sx(p[0]).toFixed(1),cy:sy(p[1]).toFixed(1),r:4.4,fill:probColor(p[2]),'fill-opacity':0.82,stroke:'rgba(70,70,70,0.45)','stroke-width':0.5},pg);
    
    
  }
  if(cfg.vline!==undefined){
    const l=mk('line',{x1:sx(cfg.vline),x2:sx(cfg.vline),y1:T,y2:B,stroke:'#000','stroke-width':5,'stroke-dasharray':'5,9.7'},pg);
    
    
  }
  const fr=mk('rect',{x:L,y:T,width:R-L,height:B-T,fill:'none',stroke:'#000','stroke-width':1.1},g);
  
  
  const lo=Math.min(x0,x1),hi=Math.max(x0,x1);
  for(let v=Math.ceil(lo/xmin-1e-6)*xmin;v<=hi+1e-9;v+=xmin){const X=sx(v);mk('line',{x1:X,x2:X,y1:B,y2:B-3.5,stroke:'#000','stroke-width':0.9},g);mk('line',{x1:X,x2:X,y1:T,y2:T+3.5,stroke:'#000','stroke-width':0.9},g);}
  const ylo=Math.min(y0,y1),yhi=Math.max(y0,y1);
  for(let v=Math.ceil(ylo/ymin-1e-6)*ymin;v<=yhi+1e-9;v+=ymin){const Y=sy(v);mk('line',{x1:L,x2:L+3.5,y1:Y,y2:Y,stroke:'#000','stroke-width':0.9},g);mk('line',{x1:R,x2:R-3.5,y1:Y,y2:Y,stroke:'#000','stroke-width':0.9},g);}
  for(const v of xt){const X=sx(v);mk('line',{x1:X,x2:X,y1:B,y2:B-7,stroke:'#000','stroke-width':1},g);mk('line',{x1:X,x2:X,y1:T,y2:T+7,stroke:'#000','stroke-width':1},g);
    const t=mk('text',{x:X,y:B+23,'text-anchor':'middle','font-size':16.5,fill:'#111'},g);t.textContent=fmt(v,xd);
    
    }
  for(const v of yt){const Y=sy(v);mk('line',{x1:L,x2:L+7,y1:Y,y2:Y,stroke:'#000','stroke-width':1},g);mk('line',{x1:R,x2:R-7,y1:Y,y2:Y,stroke:'#000','stroke-width':1},g);
    const t=mk('text',{x:L-8,y:Y+6,'text-anchor':'end','font-size':16.5,fill:'#111'},g);t.textContent=fmt(v,yd);
    
    }
  const xl=mk('text',{x:(L+R)/2,y:B+54,'text-anchor':'middle','font-size':16.5,fill:'#111'},g);xl.textContent=xlab;
  
  
  const yl=mk('text',{x:0,y:0,'text-anchor':'middle','font-size':16.5,fill:'#111',transform:'translate('+cfg.ylx+','+(T+B)/2+') rotate(-90)'},g);yl.textContent=ylab;
  
  
}

panel({name:'glon-glat-panel',L:80.7,R:501.7,T:73.5,B:493,x0:1.64,x1:3.22,y0:0.618,y1:2.0,xt:panel1XTicks,yt:panel1YTicks,xmin:0.05,ymin:0.05,xd:2,yd:1,xlab:'GLON [deg]',ylab:'GLAT [deg]',ylx:23,pts:glonGlat});
panel({name:'pm-panel',L:616.7,R:1038.3,T:73.3,B:493.3,x0:-1.854,x1:1.041,y0:-3.81,y1:-0.166,xt:panel2XTicks,yt:panel2YTicks,xmin:0.1,ymin:0.1,xd:1,yd:1,xlab:'pmRA [mas/yr]',ylab:'pmDE [mas/yr]',ylx:546,pts:pmraPmde});
panel({name:'plx-g-panel',L:80.7,R:501.7,T:580,B:1000,x0:0.124,x1:0.482,y0:10.73,y1:20.265,inv:true,xt:panel3XTicks,yt:gTicks,xmin:0.02,ymin:0.5,xd:1,yd:0,xlab:'Plx [mas]',ylab:'G [mag]',ylx:28,pts:plxG,vline:plxCut});
panel({name:'color-g-panel',L:616.7,R:1038.3,T:580,B:1000,x0:1.297,x1:4.328,y0:10.73,y1:20.265,inv:true,xt:panel4XTicks,yt:gTicks,xmin:0.1,ymin:0.5,xd:1,yd:0,xlab:'BP-RP [mag]',ylab:'G [mag]',ylx:565,pts:bprpG});

(function(){
  const L=1063.3,R=1085,T=67,B=999.3;
  const g=mk('g',{});
  
  
  const defs=mk('defs',{},g);
  const lg=mk('linearGradient',{id:'cbg',x1:0,y1:1,x2:0,y2:0},defs);
  for(let i=0;i<=20;i++){const t=i/20;mk('stop',{offset:t,'stop-color':plasma(t),'stop-opacity':0.82},lg);}
  mk('rect',{x:L,y:T,width:R-L,height:B-T,fill:'url(#cbg)',stroke:'#000','stroke-width':1},g);
  const sy=v=>B-(v-probMin)/(probMax-probMin)*(B-T);
  for(let v=0.916;v<=1.0001;v+=0.002){const Y=sy(v);mk('line',{x1:R,x2:R-3.5,y1:Y,y2:Y,stroke:'#000','stroke-width':0.9},g);}
  for(const v of colorbarTicks){const Y=sy(v);mk('line',{x1:R,x2:R-7,y1:Y,y2:Y,stroke:'#000','stroke-width':1},g);
    const t=mk('text',{x:R+11,y:Y+6,'font-size':17,fill:'#111'},g);t.textContent=v.toFixed(2);
    
    }
})();
</script>
</body></html>
